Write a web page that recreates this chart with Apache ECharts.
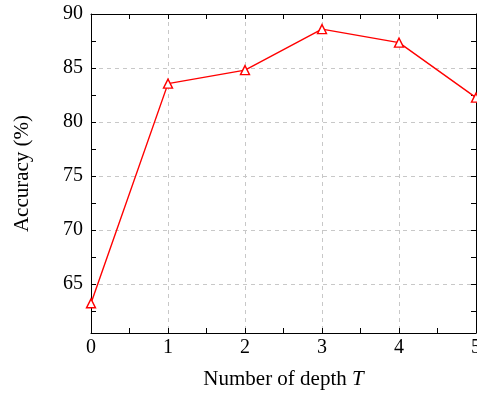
<!DOCTYPE html>
<html><head><meta charset="utf-8">
<script src="https://cdn.jsdelivr.net/npm/echarts@6/dist/echarts.min.js"></script>
<style>html,body{margin:0;padding:0;background:#fff}#c{width:477px;height:394px}</style>
</head><body><div id="c"></div>
<script>
const depths = [0, 1, 2, 3, 4, 5];
const accuracy = [63.2, 83.55, 84.8, 88.6, 87.35, 82.25];
const yTickValues = [65, 70, 75, 80, 85, 90];
const yAllTicks = [62.5, 65, 67.5, 70, 72.5, 75, 77.5, 80, 82.5, 85, 87.5];
const xMinorTicks = [0.5, 1, 1.5, 2, 2.5, 3, 3.5, 4, 4.5];

const font = '"Liberation Serif", "DejaVu Serif", serif';
const chart = echarts.init(document.getElementById('c'));
const frameLine = { show: true, onZero: false, lineStyle: { color: '#000', width: 1 } };
const gridLine = { show: true, lineStyle: { color: '#c8c8c8', type: [4, 4], width: 1 } };
chart.setOption({
  animation: false,
  grid: { left: 91, right: 1, top: 14, bottom: 61, containLabel: false, outerBoundsMode: 'none' },
  xAxis: [{
    type: 'value', min: 0, max: 5, interval: 1, position: 'bottom',
    axisLine: frameLine,
    axisTick: { show: true, inside: true, length: 5, lineStyle: { color: '#000' } },
    minorTick: { show: true, splitNumber: 2, length: 5, lineStyle: { color: '#000' } },
    axisLabel: { color: '#000', fontFamily: font, fontSize: 20, margin: 5 },
    splitLine: gridLine,
    name: '{n|Number of depth }{i|T}', nameLocation: 'middle', nameGap: 36,
    nameTextStyle: { rich: {
      n: { fontFamily: font, fontSize: 21, color: '#000' },
      i: { fontFamily: font, fontSize: 21, color: '#000', fontStyle: 'italic' } } }
  }, {
    type: 'value', min: 0, max: 5, position: 'top',
    axisLine: frameLine,
    axisTick: { show: true, inside: true, length: 5, customValues: xMinorTicks, lineStyle: { color: '#000' } },
    axisLabel: { show: false }, splitLine: { show: false }
  }],
  yAxis: [{
    type: 'value', min: 60.45, max: 90, splitNumber: 5, position: 'left',
    axisLine: frameLine,
    axisTick: { show: false },
    axisLabel: { color: '#000', fontFamily: font, fontSize: 20, margin: 8, customValues: yTickValues },
    splitLine: gridLine,
    name: 'Accuracy (%)', nameLocation: 'middle', nameGap: 58,
    nameTextStyle: { fontFamily: font, fontSize: 21, color: '#000' }
  }, {
    type: 'value', min: 60.45, max: 90, position: 'right',
    axisLine: frameLine,
    axisTick: { show: true, inside: true, length: 5, customValues: yAllTicks, lineStyle: { color: '#000' } },
    axisLabel: { show: false }, splitLine: { show: false }
  }, {
    type: 'value', min: 60.45, max: 90, position: 'left',
    axisLine: { show: false },
    axisTick: { show: true, inside: true, length: 5, customValues: yAllTicks, lineStyle: { color: '#000' } },
    axisLabel: { show: false }, splitLine: { show: false }
  }],
  series: [{
    type: 'line', xAxisIndex: 0, yAxisIndex: 0,
    data: depths.map((d, i) => [d, accuracy[i]]),
    symbol: 'triangle', symbolSize: 9, clip: false,
    lineStyle: { color: '#ff0000', width: 1.4 },
    itemStyle: { color: '#fff', borderColor: '#ff0000', borderWidth: 1.4 }
  }]
});
</script></body></html>
